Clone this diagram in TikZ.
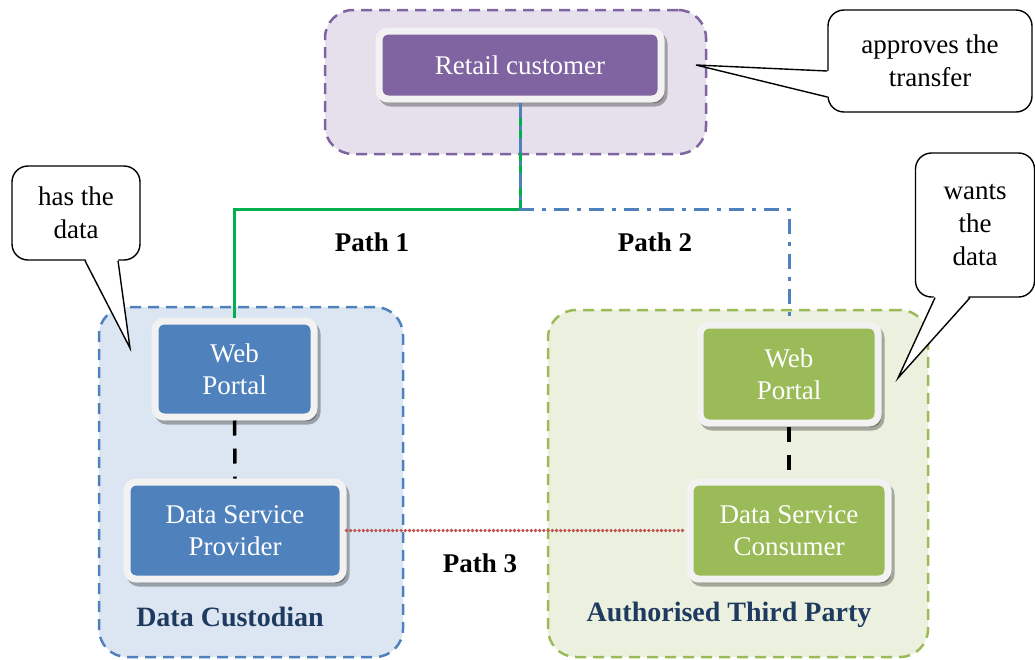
\documentclass[tikz,border=0pt]{standalone}
\usepackage{fontspec}
\setmainfont{Liberation Serif}
\usepackage{xcolor}
\usepackage{tikz}
\usetikzlibrary{calc,shadows}
\definecolor{purp}{HTML}{8064A2}
\definecolor{purpbg}{HTML}{E5E0EC}
\definecolor{blu}{HTML}{4F81BD}
\definecolor{blubg}{HTML}{DCE6F2}
\definecolor{grn}{HTML}{9BBB59}
\definecolor{grnbg}{HTML}{EBF1DE}
\definecolor{navy}{HTML}{1F3A60}
\definecolor{rim}{HTML}{F2F2F2}
\definecolor{pathgreen}{HTML}{00B050}
\definecolor{pathred}{HTML}{C0504D}
\tikzset{
  grp/.style={rectangle, rounded corners=28pt, dash pattern=on 11pt off 7pt, line width=2.5pt, inner sep=0pt},
  unit/.style={rectangle, rounded corners=9pt, draw=rim, line width=7pt, text=white, align=center, inner sep=0pt,
    font=\fontsize{27}{32}\selectfont,
    drop shadow={shadow xshift=3pt, shadow yshift=-4pt, fill=black, draw=black, line width=7pt, opacity=0.3}},
  bubble/.style={rectangle, rounded corners=16pt, draw=black, fill=white, line width=1.4pt, align=center, inner sep=0pt,
    font=\fontsize{27}{33}\selectfont},
  tail/.style={draw=black, line width=1.4pt, line join=miter},
  pathone/.style={draw=pathgreen, line width=3pt},
  pathtwo/.style={draw=blu, line width=3pt, dash pattern=on 15pt off 8pt on 4pt off 8pt},
  paththree/.style={draw=pathred, line width=3.6pt, line cap=round, dash pattern=on 0pt off 4.2pt},
  inlink/.style={draw=black, line width=3.5pt, dash pattern=on 15pt off 13pt},
  lab/.style={font=\bfseries\fontsize{27}{30}\selectfont},
  grplab/.style={text=navy, font=\bfseries\fontsize{28}{30}\selectfont},
}
\begin{document}
\begin{tikzpicture}[x=1pt, y=-1pt]
  \useasboundingbox (0,0) rectangle (1035,659);
  \node[grp, draw=purp, fill=purpbg, minimum width=381pt, minimum height=144pt] (custgrp) at (515.5,82) {};
  \node[grp, draw=blu, fill=blubg, minimum width=304pt, minimum height=350pt] (holdgrp) at (251,482) {};
  \node[grp, draw=grn, fill=grnbg, minimum width=380pt, minimum height=347pt] (atpgrp) at (738,483.5) {};

  \node[unit, fill=purp, minimum width=282pt, minimum height=68pt] (cust) at (520,65) {Retail customer};
  \node[unit, fill=blu, minimum width=159pt, minimum height=96pt] (webl) at (234.5,369) {Web\\Portal};
  \node[unit, fill=blu, minimum width=216pt, minimum height=97pt] (dsp) at (235,530.5) {Data Service\\Provider};
  \node[unit, fill=grn, minimum width=178pt, minimum height=98pt] (webr) at (789,374) {Web\\Portal};
  \node[unit, fill=grn, minimum width=198pt, minimum height=97pt] (dsc) at (789,530.5) {Data Service\\Consumer};

  \coordinate (split) at (cust.south |- 0,209);
  \draw[pathone] (cust.south) -- (split) -| (webl.north);
  \draw[pathtwo] (cust.south) -- (split) -| (webr.north);
  \draw[inlink] (webl.south) -- (dsp.north);
  \draw[inlink] (webr.south) -- (dsc.north);
  \draw[paththree] (dsp.east) -- (dsc.west);

  \node[lab] (p1) at (372,242) {Path 1};
  \node[lab] (p2) at (655,242) {Path 2};
  \node[lab] (p3) at (480,563) {Path 3};
  \node[grplab] (holdlab) at (230,617) {Data Custodian};
  \node[grplab] (atplab) at (729,615) {Authorised Third Party};

  \node[bubble, minimum width=128pt, minimum height=94pt] (hasdata) at (76,213) {has the\\data};
  \node[bubble, minimum width=204pt, minimum height=102pt] (approves) at (930,61) {approves the\\transfer};
  \node[bubble, minimum width=119pt, minimum height=144pt] (wants) at (975,225) {wants\\the\\data};
  \coordinate (hastip) at (130,348);
  \coordinate (apptip) at (696,65);
  \coordinate (wanttip) at (898,378);

  \fill[white] ($(hasdata.south)+(9,-3)$) -- (hastip) -- ($(hasdata.south)+(42,-3)$) -- cycle;
  \draw[tail] ($(hasdata.south)+(9,0)$) -- (hastip) -- ($(hasdata.south)+(42,0)$);
  \fill[white] ($(approves.west)+(3,10)$) -- (apptip) -- ($(approves.west)+(3,36)$) -- cycle;
  \draw[tail] ($(approves.west)+(0,10)$) -- (apptip) -- ($(approves.west)+(0,36)$);
  \fill[white] ($(wants.south)+(-40,-3)$) -- (wanttip) -- ($(wants.south)+(-5,-3)$) -- cycle;
  \draw[tail] ($(wants.south)+(-40,0)$) -- (wanttip) -- ($(wants.south)+(-5,0)$);
\end{tikzpicture}
\end{document}
